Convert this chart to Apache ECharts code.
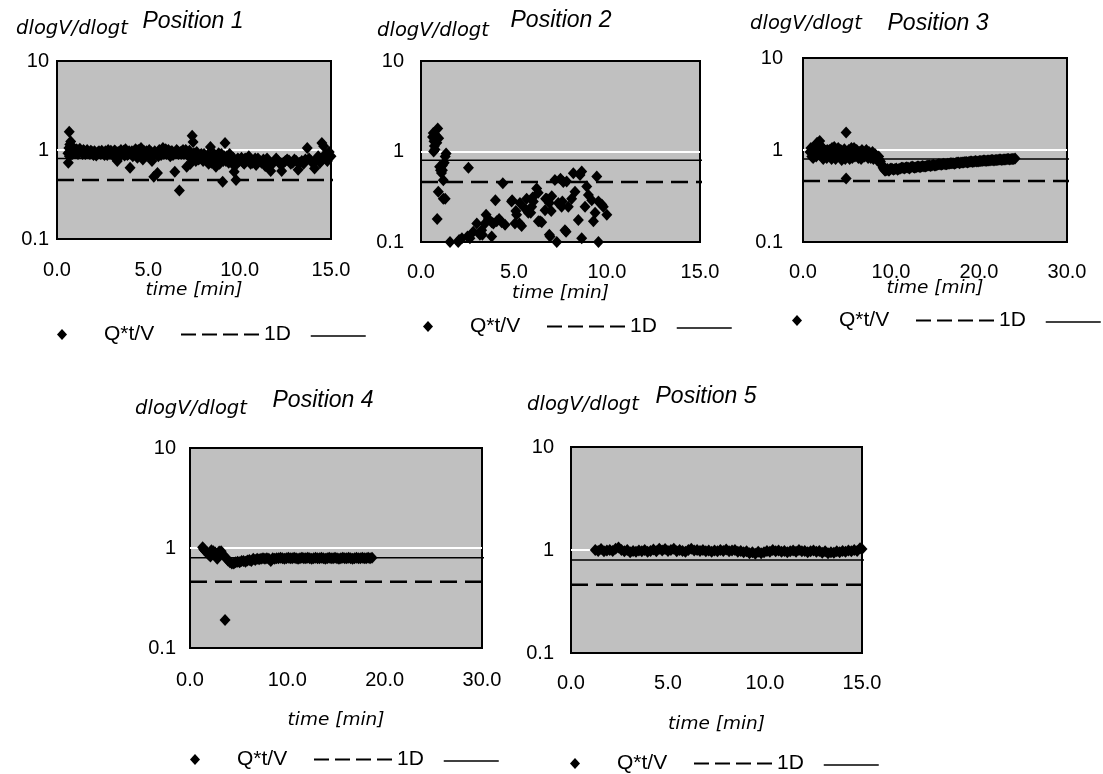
<!DOCTYPE html>
<html>
<head>
<meta charset="utf-8">
<script src="https://cdn.jsdelivr.net/npm/echarts@6/dist/echarts.min.js"></script>
<style>
  html, body { margin: 0; background: #fff; }
  #chart { width: 1103px; height: 774px; }
</style>
</head>
<body>
<div id="chart"></div>
<script>
// readings [time (min), dlogV/dlogt], one array per position
const p1Points = [
  [0.6, 0.92], [0.62, 0.72], [0.65, 1.05], [0.67, 1.6], [0.7, 1.15], [0.72, 0.95], [0.75, 1.25], [0.8, 1.0],
  [0.85, 0.9], [0.9, 1.05], [0.95, 0.98], [1.0, 0.93], [1.1, 1.0], [1.2, 0.95], [1.3, 0.98], [1.4, 0.9],
  [1.5, 0.97], [1.6, 0.93], [1.7, 0.95], [1.8, 0.9], [1.9, 0.96], [2.0, 0.88], [2.1, 0.94], [2.2, 0.92],
  [2.3, 0.97], [2.4, 0.9], [2.5, 0.95], [2.6, 0.88], [2.7, 0.93], [2.8, 1.0], [2.9, 0.9], [3.0, 0.92],
  [3.1, 0.85], [3.2, 0.97], [3.3, 0.75], [3.4, 0.9], [3.5, 1.0], [3.6, 0.93], [3.7, 0.87], [3.8, 0.95],
  [3.9, 0.9], [4.0, 0.63], [4.1, 0.97], [4.2, 0.88], [4.3, 1.02], [4.4, 0.82], [4.5, 0.95], [4.6, 1.05],
  [4.7, 0.78], [4.8, 0.92], [4.9, 0.97], [5.0, 0.9], [5.1, 0.85], [5.2, 0.75], [5.3, 0.5], [5.4, 0.92],
  [5.5, 0.55], [5.6, 1.0], [5.7, 0.88], [5.8, 1.05], [5.9, 0.95], [6.0, 0.9], [6.1, 1.0], [6.2, 0.85],
  [6.3, 0.97], [6.45, 0.57], [6.5, 0.92], [6.6, 0.97], [6.7, 0.35], [6.8, 0.9], [6.9, 1.0], [7.0, 0.95],
  [7.1, 0.65], [7.2, 0.85], [7.3, 0.7], [7.4, 1.45], [7.45, 1.23], [7.5, 0.92], [7.6, 0.75], [7.7, 0.85],
  [7.8, 0.8], [7.9, 0.9], [8.0, 0.75], [8.1, 0.85], [8.2, 0.8], [8.3, 0.7], [8.4, 1.08], [8.5, 0.78],
  [8.6, 0.9], [8.7, 0.65], [8.8, 0.85], [8.9, 0.7], [9.0, 0.9], [9.07, 0.44], [9.1, 0.75], [9.2, 1.2],
  [9.3, 0.85], [9.4, 0.72], [9.5, 0.8], [9.6, 0.7], [9.7, 0.57], [9.8, 0.46], [9.9, 0.8], [10.0, 0.75],
  [10.2, 0.72], [10.3, 0.8], [10.5, 0.85], [10.6, 0.7], [10.8, 0.75], [10.9, 0.68], [11.0, 0.8], [11.2, 0.72],
  [11.4, 0.66], [11.5, 0.8], [11.6, 0.7], [11.7, 0.58], [11.9, 0.75], [12.0, 0.8], [12.2, 0.7], [12.3, 0.58],
  [12.5, 0.75], [12.6, 0.78], [12.8, 0.7], [13.0, 0.78], [13.2, 0.6], [13.4, 0.75], [13.5, 0.7], [13.7, 1.05],
  [13.8, 0.8], [14.0, 0.72], [14.1, 0.62], [14.3, 0.85], [14.5, 1.2], [14.6, 1.1], [14.7, 0.9], [14.8, 0.75],
  [14.9, 0.95], [15.0, 0.85],
  [0.68, 0.85], [0.78, 1.1], [0.88, 0.95], [1.05, 1.02], [1.15, 0.9], [1.25, 1.03], [1.35, 0.94], [1.45, 1.0],
  [1.55, 0.9], [1.65, 1.0], [1.75, 0.92], [1.85, 0.98], [1.95, 0.92], [2.05, 0.97], [2.15, 0.87], [2.25, 0.95],
  [2.35, 0.93], [2.45, 0.98], [2.55, 0.92], [2.65, 0.97], [2.75, 0.88], [2.85, 0.95], [2.95, 0.98], [3.05, 0.93],
  [3.15, 0.99], [3.25, 0.88], [3.35, 0.95], [3.45, 0.85], [3.55, 0.92], [3.65, 0.98], [3.75, 1.02], [3.85, 0.88],
  [3.95, 0.97], [4.05, 0.92], [4.15, 0.85], [4.25, 0.95], [4.35, 0.9], [4.45, 1.0], [4.55, 0.88], [4.65, 0.92],
  [4.75, 0.98], [4.85, 0.85], [4.95, 0.93], [5.05, 1.0], [5.15, 0.95], [5.25, 0.88], [5.35, 0.97], [5.45, 0.9],
  [5.55, 0.85], [5.65, 0.95], [5.75, 0.98], [5.85, 0.9], [5.95, 1.02], [6.05, 0.95], [6.15, 0.9], [6.25, 0.97],
  [6.35, 0.88], [6.55, 1.0], [6.65, 0.9], [6.75, 0.95], [6.85, 0.97], [6.95, 0.9], [7.05, 1.0], [7.15, 0.92],
  [7.25, 0.98], [7.35, 0.88], [7.55, 0.85], [7.65, 0.95], [7.75, 0.78], [7.85, 0.88], [7.95, 0.82], [8.05, 0.9],
  [8.15, 0.76], [8.25, 0.88], [8.35, 0.8], [8.45, 0.72], [8.55, 0.85], [8.65, 0.75], [8.75, 0.8], [8.85, 0.92],
  [8.95, 0.78], [9.15, 0.85], [9.25, 0.75], [9.35, 0.8], [9.45, 0.9], [9.55, 0.75], [9.65, 0.82], [9.75, 0.72],
  [9.85, 0.7], [9.95, 0.78], [10.1, 0.82], [10.25, 0.7], [10.4, 0.76], [10.55, 0.78], [10.7, 0.72], [10.85, 0.8],
  [11.1, 0.75], [11.3, 0.78], [11.45, 0.72], [11.8, 0.7], [12.1, 0.75], [12.4, 0.72], [12.7, 0.76], [12.9, 0.72],
  [13.1, 0.75], [13.3, 0.72], [13.6, 0.78], [13.9, 0.75], [14.2, 0.78], [14.4, 0.72], [14.55, 0.8]
]

const p2Points = [
  [0.62, 1.45], [0.66, 1.6], [0.68, 1.0], [0.7, 1.3], [0.72, 1.15], [0.75, 1.05], [0.8, 1.5], [0.85, 1.25],
  [0.87, 0.18], [0.9, 1.8], [0.93, 0.36], [0.95, 1.4], [1.0, 0.68], [1.05, 0.62], [1.1, 0.58], [1.15, 0.7],
  [1.15, 0.62], [1.2, 0.48], [1.2, 0.3], [1.25, 0.75], [1.3, 0.88], [1.3, 0.3], [1.35, 0.95], [1.56, 0.1],
  [2.0, 0.1], [2.05, 0.105], [2.2, 0.11], [2.5, 0.115], [2.55, 0.66], [2.63, 0.11], [2.81, 0.13], [3.0, 0.16],
  [3.17, 0.12], [3.26, 0.135], [3.3, 0.12], [3.44, 0.16], [3.5, 0.2], [3.62, 0.18], [3.8, 0.165], [3.8, 0.115],
  [3.89, 0.16], [4.0, 0.29], [4.07, 0.17], [4.2, 0.18], [4.34, 0.165], [4.4, 0.445], [4.52, 0.155], [4.87, 0.28],
  [4.9, 0.29], [5.05, 0.16], [5.1, 0.22], [5.14, 0.2], [5.3, 0.16], [5.32, 0.27], [5.41, 0.15], [5.59, 0.235],
  [5.68, 0.3], [5.77, 0.21], [5.9, 0.21], [5.95, 0.245], [6.0, 0.31], [6.04, 0.28], [6.22, 0.39], [6.3, 0.35],
  [6.31, 0.17], [6.4, 0.17], [6.49, 0.165], [6.67, 0.225], [6.7, 0.3], [6.76, 0.3], [6.9, 0.27], [6.9, 0.12],
  [6.94, 0.115], [7.0, 0.22], [7.03, 0.32], [7.2, 0.485], [7.3, 0.1], [7.38, 0.27], [7.5, 0.5], [7.56, 0.245],
  [7.6, 0.28], [7.65, 0.46], [7.74, 0.135], [7.8, 0.13], [7.83, 0.465], [7.92, 0.245], [8.1, 0.3], [8.19, 0.575],
  [8.28, 0.36], [8.46, 0.175], [8.55, 0.55], [8.64, 0.6], [8.64, 0.11], [8.82, 0.245], [8.91, 0.41], [9.0, 0.33],
  [9.18, 0.29], [9.27, 0.17], [9.36, 0.21], [9.45, 0.53], [9.54, 0.1], [9.54, 0.28], [9.72, 0.26], [9.8, 0.245],
  [9.99, 0.2]
]

const p3Points = [
  [0.8, 0.95], [1.0, 0.85], [1.1, 1.0], [1.2, 0.9], [1.4, 1.1], [1.5, 0.85], [1.6, 1.2], [1.8, 1.05],
  [1.9, 1.25], [2.0, 0.95], [2.2, 1.0], [2.3, 0.8], [2.5, 0.9], [2.7, 0.82], [2.8, 0.95], [3.0, 1.0],
  [3.2, 0.85], [3.3, 1.05], [3.5, 0.9], [3.7, 0.8], [3.8, 0.95], [4.0, 1.05], [4.2, 0.88], [4.4, 0.78],
  [4.6, 0.95], [4.9, 1.55], [4.9, 0.49], [5.0, 0.85], [5.2, 1.0], [5.4, 0.9], [5.6, 0.82], [5.8, 1.05],
  [6.0, 0.92], [6.2, 0.85], [6.4, 0.95], [6.6, 0.8], [6.8, 0.9], [7.0, 0.85], [7.2, 1.0], [7.4, 0.82],
  [7.6, 0.92], [7.8, 0.88], [8.0, 0.8], [8.2, 0.9], [8.4, 0.78], [8.6, 0.85], [8.8, 0.75], [9.0, 0.68],
  [9.2, 0.62], [9.4, 0.6], [9.6, 0.62], [9.8, 0.6], [10.0, 0.63], [10.3, 0.61], [10.6, 0.63], [10.9, 0.62],
  [11.2, 0.64], [11.5, 0.63], [11.8, 0.65], [12.1, 0.63], [12.4, 0.66], [12.7, 0.64], [13.0, 0.66], [13.3, 0.65],
  [13.6, 0.67], [13.9, 0.66], [14.2, 0.68], [14.5, 0.67], [14.8, 0.69], [15.1, 0.68], [15.4, 0.7], [15.7, 0.69],
  [16.0, 0.71], [16.3, 0.7], [16.6, 0.71], [16.9, 0.72], [17.2, 0.71], [17.5, 0.73], [17.8, 0.72], [18.1, 0.73],
  [18.4, 0.74], [18.7, 0.73], [19.0, 0.75], [19.3, 0.74], [19.6, 0.76], [19.9, 0.75], [20.2, 0.76], [20.5, 0.77],
  [20.8, 0.76], [21.1, 0.77], [21.4, 0.78], [21.7, 0.77], [22.0, 0.78], [22.3, 0.79], [22.6, 0.78], [22.9, 0.79],
  [23.2, 0.8], [23.5, 0.79], [23.8, 0.8], [24.1, 0.81],
  [0.9, 1.05], [1.05, 0.95], [1.15, 0.82], [1.25, 1.08], [1.35, 0.92], [1.45, 0.98], [1.55, 1.02], [1.65, 0.9],
  [1.75, 0.98], [1.85, 1.15], [1.95, 0.88], [2.05, 1.1], [2.15, 0.85], [2.25, 0.95], [2.35, 1.02], [2.45, 0.85],
  [2.55, 0.98], [2.65, 0.92], [2.75, 1.0], [2.9, 0.88], [3.1, 0.95], [3.25, 0.8], [3.4, 0.98], [3.55, 1.08],
  [3.65, 0.85], [3.9, 0.88], [4.1, 0.95], [4.3, 1.0], [4.5, 0.85], [4.7, 1.02], [4.8, 0.8], [5.1, 0.95],
  [5.3, 0.8], [5.5, 1.05], [5.7, 0.9], [5.9, 0.85], [6.1, 1.0], [6.3, 0.82], [6.5, 0.9], [6.7, 1.0],
  [6.9, 0.85], [7.1, 0.92], [7.3, 0.88], [7.5, 0.95], [7.7, 0.82], [7.9, 0.95], [8.1, 0.85], [8.3, 0.82],
  [8.5, 0.8], [8.7, 0.78], [8.9, 0.7], [9.1, 0.64], [9.3, 0.6], [9.5, 0.61], [9.7, 0.6], [9.9, 0.62],
  [10.15, 0.62], [10.45, 0.62], [10.75, 0.61], [11.05, 0.63], [11.35, 0.64], [11.65, 0.64], [11.95, 0.64], [12.25, 0.65],
  [12.55, 0.65], [12.85, 0.65], [13.15, 0.66], [13.45, 0.66], [13.75, 0.66], [14.05, 0.67], [14.35, 0.68], [14.65, 0.68],
  [14.95, 0.68], [15.25, 0.69], [15.55, 0.7], [15.85, 0.7], [16.15, 0.7], [16.45, 0.71], [16.75, 0.72], [17.05, 0.72],
  [17.35, 0.72], [17.65, 0.73], [17.95, 0.73], [18.25, 0.73], [18.55, 0.74], [18.85, 0.74], [19.15, 0.75], [19.45, 0.75],
  [19.75, 0.75], [20.05, 0.76], [20.35, 0.76], [20.65, 0.77], [20.95, 0.77], [21.25, 0.77], [21.55, 0.78], [21.85, 0.78],
  [22.15, 0.78], [22.45, 0.79], [22.75, 0.79], [23.05, 0.79], [23.35, 0.8], [23.65, 0.8], [23.95, 0.8]
]

const p4Points = [
  [1.3, 1.02], [1.4, 0.98], [1.5, 0.95], [1.6, 0.93], [1.8, 0.9], [1.9, 0.86], [2.1, 0.82], [2.2, 0.95],
  [2.4, 0.93], [2.6, 0.9], [2.8, 0.78], [3.0, 0.92], [3.2, 0.93], [3.4, 0.85], [3.6, 0.19], [3.7, 0.8],
  [3.9, 0.75], [4.1, 0.72], [4.3, 0.7], [4.5, 0.7], [4.7, 0.72], [4.9, 0.73], [5.1, 0.72], [5.3, 0.74],
  [5.5, 0.74], [5.7, 0.73], [5.9, 0.75], [6.1, 0.76], [6.3, 0.74], [6.5, 0.78], [6.7, 0.76], [6.9, 0.78],
  [7.1, 0.77], [7.3, 0.78], [7.5, 0.79], [7.7, 0.78], [7.9, 0.79], [8.1, 0.78], [8.3, 0.74], [8.5, 0.79],
  [8.7, 0.78], [8.9, 0.79], [9.1, 0.79], [9.3, 0.8], [9.5, 0.79], [9.7, 0.78], [9.9, 0.79], [10.1, 0.8],
  [10.3, 0.79], [10.5, 0.79], [10.7, 0.8], [10.9, 0.79], [11.1, 0.78], [11.3, 0.79], [11.5, 0.8], [11.7, 0.79],
  [11.9, 0.79], [12.1, 0.8], [12.3, 0.79], [12.5, 0.78], [12.7, 0.79], [12.9, 0.8], [13.1, 0.79], [13.3, 0.79],
  [13.5, 0.8], [13.7, 0.79], [13.9, 0.78], [14.1, 0.79], [14.3, 0.8], [14.5, 0.79], [14.7, 0.79], [14.9, 0.8],
  [15.1, 0.79], [15.3, 0.78], [15.5, 0.79], [15.7, 0.8], [15.9, 0.79], [16.1, 0.79], [16.3, 0.8], [16.5, 0.79],
  [16.7, 0.78], [16.9, 0.79], [17.1, 0.8], [17.3, 0.79], [17.5, 0.79], [17.7, 0.8], [17.9, 0.79], [18.1, 0.79],
  [18.3, 0.8], [18.5, 0.79], [18.7, 0.8]
]

const p5Points = [
  [1.25, 1.0], [1.4, 0.98], [1.55, 1.02], [1.7, 0.97], [1.85, 0.99], [2.0, 1.0], [2.15, 0.98], [2.3, 1.03],
  [2.45, 1.06], [2.6, 1.0], [2.75, 0.97], [2.9, 1.0], [3.05, 0.95], [3.2, 0.98], [3.35, 0.96], [3.5, 0.99],
  [3.65, 0.97], [3.8, 1.0], [3.95, 0.96], [4.1, 0.98], [4.25, 1.01], [4.4, 0.97], [4.55, 1.03], [4.7, 0.99],
  [4.85, 1.02], [5.0, 0.98], [5.15, 1.0], [5.3, 1.03], [5.45, 0.97], [5.6, 1.0], [5.75, 0.98], [5.9, 0.96],
  [6.05, 1.0], [6.2, 1.03], [6.35, 0.99], [6.5, 1.0], [6.65, 0.98], [6.8, 1.0], [6.95, 0.97], [7.1, 0.99],
  [7.25, 0.96], [7.4, 0.99], [7.55, 0.97], [7.7, 1.0], [7.85, 0.98], [8.0, 1.01], [8.15, 0.97], [8.3, 0.99],
  [8.45, 1.0], [8.6, 0.96], [8.75, 0.98], [8.9, 0.95], [9.05, 0.97], [9.2, 0.93], [9.35, 0.95], [9.5, 0.92],
  [9.65, 0.96], [9.8, 0.93], [9.95, 0.95], [10.1, 0.98], [10.25, 0.96], [10.4, 1.0], [10.55, 0.97], [10.7, 0.99],
  [10.85, 0.96], [11.0, 0.98], [11.15, 0.95], [11.3, 0.97], [11.45, 0.99], [11.6, 0.96], [11.75, 1.0], [11.9, 0.97],
  [12.05, 0.98], [12.2, 0.95], [12.35, 0.97], [12.5, 0.99], [12.65, 0.96], [12.8, 0.98], [12.95, 0.94], [13.1, 0.97],
  [13.25, 0.93], [13.4, 0.95], [13.55, 0.94], [13.7, 0.97], [13.85, 0.95], [14.0, 0.98], [14.15, 0.96], [14.3, 0.99],
  [14.45, 0.97], [14.6, 1.0], [14.75, 0.98], [14.9, 1.04], [15.0, 1.02]
]

const allPoints = [p1Points, p2Points, p3Points, p4Points, p5Points]
const positionNames = ['Position 1', 'Position 2', 'Position 3', 'Position 4', 'Position 5']
const xMaxes = [15, 15, 30, 30, 15]
const xSteps = [5, 5, 10, 10, 5]
// the two reference lines run a little past the right edge of each plot
const lineEnds = [15.3, 15.3, 30.7, 30.6, 15.26]
const level1D = 0.46
const levelRef = 0.8

const LIB = '"Liberation Sans", Arial, sans-serif'
const DEJA = '"DejaVu Sans", sans-serif'

// layout of each panel
const panels = [
  {grid: {left: 57, top: 61, width: 274, height: 178}, yMargin: 8, labelMargin: 21, nameGap: 42, legend: [62, 336], yName: [72, 29], title: [193, 22]},
  {grid: {left: 421, top: 61, width: 279, height: 181}, yMargin: 17, labelMargin: 20, nameGap: 42, legend: [428, 328], yName: [433, 31], title: [561, 21]},
  {grid: {left: 803, top: 58, width: 264, height: 184}, yMargin: 20, labelMargin: 20, nameGap: 37, legend: [797, 322], yName: [806, 24], title: [938, 24]},
  {grid: {left: 190, top: 448, width: 292, height: 200}, yMargin: 14, labelMargin: 22, nameGap: 63, legend: [195, 761], yName: [191, 409], title: [323, 401]},
  {grid: {left: 571, top: 447, width: 291, height: 206}, yMargin: 17, labelMargin: 20, nameGap: 62, legend: [575, 765], yName: [583, 405], title: [706, 397]}
]

const chart = echarts.init(document.getElementById('chart'))

const option = {
  animation: false,
  backgroundColor: '#fff',
  grid: [],
  xAxis: [],
  yAxis: [],
  legend: [],
  graphic: [],
  series: []
}

const legendText = {color: '#000', fontFamily: LIB, fontSize: 21}
const hidden = 'rgba(0,0,0,0)'

panels.forEach((p, i) => {
  option.grid.push(Object.assign({}, p.grid, {
    show: true,
    backgroundColor: '#c0c0c0',
    borderColor: '#000',
    borderWidth: 2,
    containLabel: false,
    outerBoundsMode: 'none'
  }))

  option.xAxis.push({
    gridIndex: i,
    type: 'value',
    min: 0,
    max: xMaxes[i],
    interval: xSteps[i],
    name: 'time [min]',
    nameLocation: 'middle',
    nameGap: p.nameGap,
    nameMoveOverlap: false,
    nameTextStyle: {color: '#000', fontFamily: DEJA, fontStyle: 'italic', fontSize: 18.5},
    axisLine: {show: false},
    axisTick: {show: false},
    splitLine: {show: false},
    axisLabel: {
      margin: p.labelMargin,
      color: '#000',
      fontFamily: LIB,
      fontSize: 20,
      showMinLabel: true,
      showMaxLabel: true,
      hideOverlap: false,
      formatter: v => v.toFixed(1)
    }
  })

  option.yAxis.push({
    gridIndex: i,
    type: 'log',
    logBase: 10,
    min: 0.1,
    max: 10,
    axisLine: {show: false},
    axisTick: {show: false},
    splitLine: {
      show: true,
      showMinLine: false,
      showMaxLine: false,
      lineStyle: {color: '#fff', width: 2}
    },
    axisLabel: {
      margin: p.yMargin,
      color: '#000',
      fontFamily: LIB,
      fontSize: 20,
      formatter: v => String(+v.toPrecision(1))
    }
  })

  option.series.push({
    name: 'Q*t/V',
    type: 'scatter',
    xAxisIndex: i,
    yAxisIndex: i,
    symbol: 'diamond',
    symbolSize: [11, 12],
    clip: false,
    itemStyle: {color: '#000', opacity: 1},
    data: allPoints[i],
    z: 2
  })
  option.series.push({
    name: '1D',
    type: 'line',
    xAxisIndex: i,
    yAxisIndex: i,
    symbol: 'none',
    clip: false,
    itemStyle: {color: hidden, borderWidth: 0},
    lineStyle: {color: '#000', width: 2.5, type: [17, 8]},
    data: [[0, level1D], [lineEnds[i], level1D]],
    z: 3
  })
  option.series.push({
    name: 'ref',
    type: 'line',
    xAxisIndex: i,
    yAxisIndex: i,
    symbol: 'none',
    clip: false,
    itemStyle: {color: hidden, borderWidth: 0},
    lineStyle: {color: '#000', width: 1.5, type: 'solid'},
    data: [[0, levelRef], [lineEnds[i], levelRef]],
    z: 3
  })

  const [lx, ly] = p.legend
  option.legend.push({
    data: ['Q*t/V'],
    left: lx - 5,
    top: ly - 12,
    padding: 0,
    icon: 'diamond',
    itemWidth: 10,
    itemHeight: 11,
    selectedMode: false,
    itemStyle: {color: '#000', opacity: 1},
    textStyle: Object.assign({padding: [0, 0, 0, 32]}, legendText)
  })
  option.legend.push({
    data: ['1D'],
    left: lx + 118,
    top: ly - 12,
    padding: 0,
    itemWidth: 78,
    itemHeight: 14,
    selectedMode: false,
    itemStyle: {color: hidden, borderWidth: 0},
    lineStyle: {color: '#000', width: 2, type: [15, 6]},
    textStyle: legendText
  })
  option.legend.push({
    data: ['ref'],
    left: lx + 248,
    top: ly - 7,
    padding: 0,
    itemWidth: 55,
    itemHeight: 14,
    selectedMode: false,
    itemStyle: {color: hidden, borderWidth: 0},
    lineStyle: {color: '#000', width: 1.5, type: 'solid'},
    formatter: () => '',
    textStyle: legendText
  })

  option.graphic.push({
    type: 'text',
    x: p.yName[0],
    y: p.yName[1],
    style: {
      text: 'dlogV/dlogt',
      fill: '#000',
      font: 'italic 19.5px ' + DEJA,
      align: 'center',
      verticalAlign: 'middle'
    }
  })
  option.graphic.push({
    type: 'text',
    x: p.title[0],
    y: p.title[1],
    style: {
      text: positionNames[i],
      fill: '#000',
      font: 'italic 23px ' + LIB,
      align: 'center',
      verticalAlign: 'middle'
    }
  })
})

chart.setOption(option)
</script>
</body>
</html>
